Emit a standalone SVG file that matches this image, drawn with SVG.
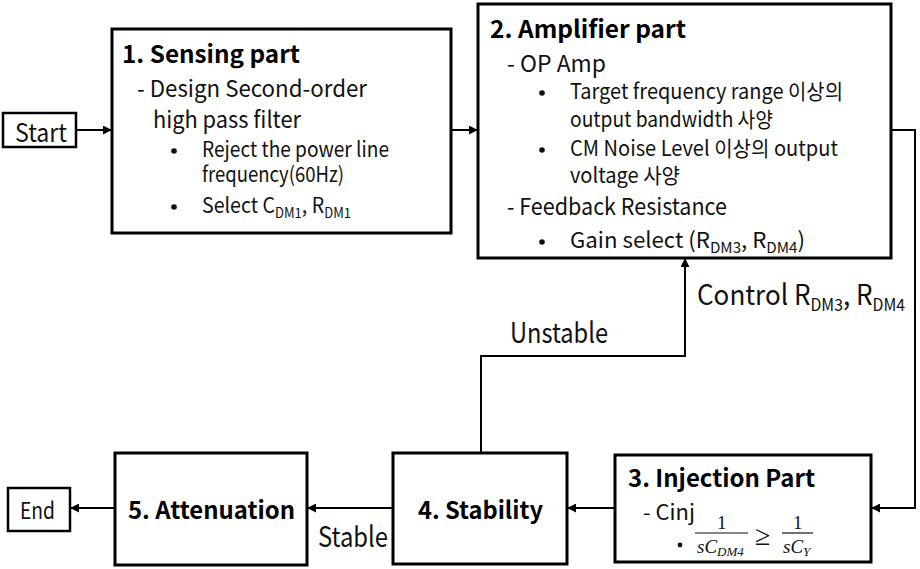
<svg xmlns="http://www.w3.org/2000/svg" width="920" height="569" viewBox="0 0 920 569">
<defs>
<marker id="ah" viewBox="0 0 10 10" refX="9" refY="5" markerWidth="4.5" markerHeight="4.5" orient="auto" markerUnits="strokeWidth">
<path d="M0,0 L10,5 L0,10 z" fill="#000"/>
</marker>
<style>
.box{fill:#fff;stroke:#000;stroke-width:3}
.sbox{fill:#fff;stroke:#000;stroke-width:2.5}
.t{font-family:"Noto Sans CJK KR","Noto Sans",sans-serif;fill:#111}
.b{font-family:"Noto Sans CJK KR","Noto Sans",sans-serif;font-weight:bold;fill:#000}
.m{font-family:"Liberation Serif",serif;font-style:italic;fill:#111}
.n{font-family:"Liberation Serif",serif;font-style:normal;fill:#111}
.dot{fill:#111}
.c{fill:none;stroke:#000;stroke-width:2;marker-end:url(#ah)}
</style>
</defs>
<g id="connectors">
<path class="c" d="M76,130 H111"/>
<path class="c" d="M451,130 H477"/>
<path class="c" d="M891,130 H915 V508 H872"/>
<path class="c" d="M615,508 H568"/>
<path class="c" d="M393,508 H308"/>
<path class="c" d="M115,508 H71"/>
<path class="c" d="M481,453 V356 H685 V259"/>
<text class="t" x="510" y="343" font-size="28" textLength="98" lengthAdjust="spacingAndGlyphs">Unstable</text>
<text class="t" x="318" y="547" font-size="28" textLength="70" lengthAdjust="spacingAndGlyphs">Stable</text>
<text class="t" x="697" y="305" font-size="28" textLength="208" lengthAdjust="spacingAndGlyphs">Control R<tspan font-size="17" dy="6">DM3</tspan><tspan dy="-6">, R</tspan><tspan font-size="17" dy="6">DM4</tspan></text>
</g>
<g id="start">
<rect class="sbox" x="3" y="113" width="73" height="34"/>
<text class="t" x="15" y="142" font-size="25" textLength="52" lengthAdjust="spacingAndGlyphs">Start</text>
</g>
<g id="sensing">
<rect class="box" x="112" y="29" width="339" height="204"/>
<text class="b" x="122" y="63" font-size="24" textLength="178" lengthAdjust="spacingAndGlyphs">1. Sensing part</text>
<text class="t" x="137" y="97" font-size="23" textLength="230" lengthAdjust="spacingAndGlyphs">- Design Second-order</text>
<text class="t" x="153" y="128" font-size="23" textLength="148" lengthAdjust="spacingAndGlyphs">high pass filter</text>
<circle class="dot" cx="174" cy="151" r="2.8"/>
<text class="t" x="202" y="157" font-size="21" textLength="187" lengthAdjust="spacingAndGlyphs">Reject the power line</text>
<text class="t" x="202" y="182" font-size="21" textLength="142" lengthAdjust="spacingAndGlyphs">frequency(60Hz)</text>
<circle class="dot" cx="174" cy="207" r="2.8"/>
<text class="t" x="202" y="213" font-size="21" textLength="149" lengthAdjust="spacingAndGlyphs">Select C<tspan font-size="14" dy="5">DM1</tspan><tspan dy="-5">, R</tspan><tspan font-size="14" dy="5">DM1</tspan></text>
</g>
<g id="amplifier">
<rect class="box" x="478" y="4" width="413" height="254"/>
<text class="b" x="490" y="38" font-size="24" textLength="196" lengthAdjust="spacingAndGlyphs">2. Amplifier part</text>
<text class="t" x="507" y="72" font-size="23" textLength="99" lengthAdjust="spacingAndGlyphs">- OP Amp</text>
<circle class="dot" cx="542" cy="93" r="2.8"/>
<text class="t" x="570" y="99" font-size="21" textLength="273" lengthAdjust="spacingAndGlyphs">Target frequency range  이상의</text>
<text class="t" x="570" y="127" font-size="21" textLength="203" lengthAdjust="spacingAndGlyphs">output bandwidth 사양</text>
<circle class="dot" cx="542" cy="150" r="2.8"/>
<text class="t" x="570" y="156" font-size="21" textLength="268" lengthAdjust="spacingAndGlyphs">CM Noise Level 이상의 output</text>
<text class="t" x="570" y="183" font-size="21" textLength="110" lengthAdjust="spacingAndGlyphs">voltage 사양</text>
<text class="t" x="507" y="215" font-size="23" textLength="220" lengthAdjust="spacingAndGlyphs">- Feedback Resistance</text>
<circle class="dot" cx="542" cy="242" r="2.8"/>
<text class="t" x="570" y="248" font-size="22" textLength="235" lengthAdjust="spacingAndGlyphs">Gain select (R<tspan font-size="15" dy="5">DM3</tspan><tspan dy="-5">, R</tspan><tspan font-size="15" dy="5">DM4</tspan><tspan dy="-5">)</tspan></text>
</g>
<g id="injection">
<rect class="box" x="615" y="455" width="256" height="107"/>
<text class="b" x="628" y="487" font-size="24" textLength="187" lengthAdjust="spacingAndGlyphs">3. Injection Part</text>
<text class="t" x="643" y="520" font-size="21" textLength="52" lengthAdjust="spacingAndGlyphs">- Cinj</text>
<circle class="dot" cx="680" cy="545" r="2.4"/>
<line x1="695" y1="533" x2="748" y2="533" stroke="#111" stroke-width="1.2"/>
<text class="n" x="717" y="529" font-size="19">1</text>
<text class="m" x="697" y="553" font-size="19">sC<tspan font-size="13" dy="3">DM4</tspan></text>
<text class="n" x="755" y="545" font-size="28">≥</text>
<line x1="782" y1="533" x2="813" y2="533" stroke="#111" stroke-width="1.2"/>
<text class="n" x="793" y="529" font-size="19">1</text>
<text class="m" x="783" y="553" font-size="19">sC<tspan font-size="13" dy="3">Y</tspan></text>
</g>
<g id="stability">
<rect class="box" x="393" y="453" width="174" height="111"/>
<text class="b" x="418" y="519" font-size="24" textLength="125" lengthAdjust="spacingAndGlyphs">4. Stability</text>
</g>
<g id="attenuation">
<rect class="box" x="115" y="453" width="192" height="112"/>
<text class="b" x="128" y="519" font-size="24" textLength="167" lengthAdjust="spacingAndGlyphs">5. Attenuation</text>
</g>
<g id="end">
<rect class="sbox" x="8" y="488" width="62" height="43"/>
<text class="t" x="20" y="519" font-size="23" textLength="35" lengthAdjust="spacingAndGlyphs">End</text>
</g>
</svg>
